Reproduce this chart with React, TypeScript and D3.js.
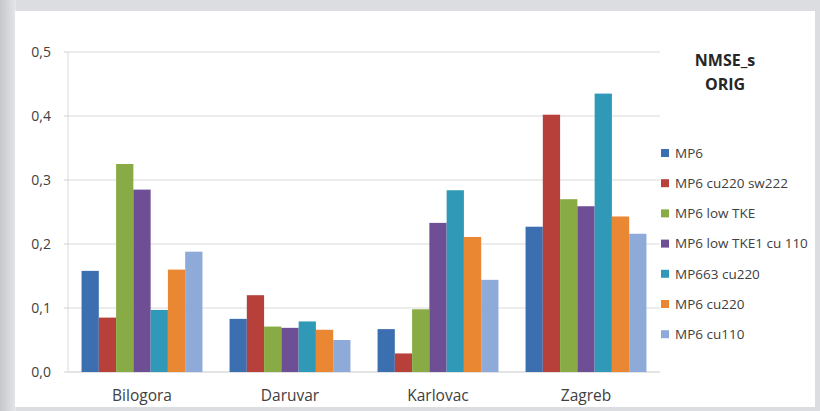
import React from 'react';
import * as d3 from 'd3';

const categories = ['Bilogora', 'Daruvar', 'Karlovac', 'Zagreb'];
const seriesNames = ['MP6', 'MP6 cu220 sw222', 'MP6 low TKE', 'MP6 low TKE1 cu 110', 'MP663 cu220', 'MP6 cu220', 'MP6 cu110'];
const mp6 = [0.158, 0.083, 0.067, 0.227];
const mp6Cu220Sw222 = [0.085, 0.12, 0.029, 0.402];
const mp6LowTke = [0.325, 0.071, 0.098, 0.27];
const mp6LowTke1Cu110 = [0.285, 0.069, 0.233, 0.259];
const mp663Cu220 = [0.097, 0.079, 0.284, 0.435];
const mp6Cu220 = [0.16, 0.066, 0.211, 0.243];
const mp6Cu110 = [0.188, 0.05, 0.144, 0.216];
const yTicks = [0, 0.1, 0.2, 0.3, 0.4, 0.5];
const colors = ['#3c6fb0', '#b8403b', '#88ab45', '#6e4f96', '#3199b8', '#ea8733', '#8eaad8'];

const series = [mp6, mp6Cu220Sw222, mp6LowTke, mp6LowTke1Cu110, mp663Cu220, mp6Cu220, mp6Cu110];

const W = 820;
const H = 411;
const left = 68;
const right = 660;
const top = 52;
const bottom = 372;
const font = '"Open Sans", "Liberation Sans", sans-serif';

export default function App() {
  const x = d3.scaleBand().domain(categories).range([left, right]).paddingInner(0.183).paddingOuter(0.0915);
  const inner = d3.scaleBand().domain(seriesNames).range([0, x.bandwidth()]);
  const y = d3.scaleLinear().domain([0, 0.5]).range([bottom, top]);
  const fmt = (v: number) => v.toFixed(1).replace('.', ',');

  return (
    <svg width={W} height={H} style={{ position: 'absolute', left: 0, top: 0 }}>
      <defs>
        <linearGradient id="side" x1="0" x2="1" y1="0" y2="0">
          <stop offset="0" stopColor="#c4c7cc" />
          <stop offset="1" stopColor="#e4e6e9" />
        </linearGradient>
      </defs>
      <rect width={W} height={H} fill="#dcdde0" />
      <rect x={0} y={0} width={16} height={H} fill="url(#side)" />
      <rect x={15} y={11} width={800} height={396} fill="#ffffff" />

      {yTicks.map((t) => (
        <g key={t}>
          <line x1={left} x2={right} y1={y(t)} y2={y(t)} stroke={t === 0 ? '#c8c8c8' : '#d9d9d9'} strokeWidth={1} />
          <line x1={left - 4} x2={left} y1={y(t)} y2={y(t)} stroke="#d0d0d0" />
          <text x={51} y={y(t)} dy="0.35em" textAnchor="end" fontFamily={font} fontSize={14} fill="#404040">{fmt(t)}</text>
        </g>
      ))}
      <line x1={left} x2={left} y1={top} y2={bottom} stroke="#d9d9d9" />

      {categories.map((c, ci) => (
        <g key={c}>
          {series.map((s, si) => (
            <rect
              key={si}
              x={(x(c) as number) + (inner(seriesNames[si]) as number)}
              y={y(s[ci])}
              width={inner.bandwidth()}
              height={bottom - y(s[ci])}
              fill={colors[si]}
            />
          ))}
          <text x={(x(c) as number) + x.bandwidth() / 2} y={401} textAnchor="middle" fontFamily={font} fontSize={15.5} fill="#404040">{c}</text>
        </g>
      ))}

      <text x={725} y={66} textAnchor="middle" fontFamily={font} fontSize={16} fontWeight="bold" fill="#262626">NMSE_s</text>
      <text x={725} y={90} textAnchor="middle" fontFamily={font} fontSize={16} fontWeight="bold" fill="#262626">ORIG</text>
      {seriesNames.map((n, i) => (
        <g key={n} transform={`translate(661, ${153 + i * 30.2})`}>
          <rect x={0} y={-4} width={8} height={8} fill={colors[i]} />
          <text x={14} y={0} dy="0.35em" fontFamily={font} fontSize={13.5} fill="#404040">{n}</text>
        </g>
      ))}
    </svg>
  );
}
